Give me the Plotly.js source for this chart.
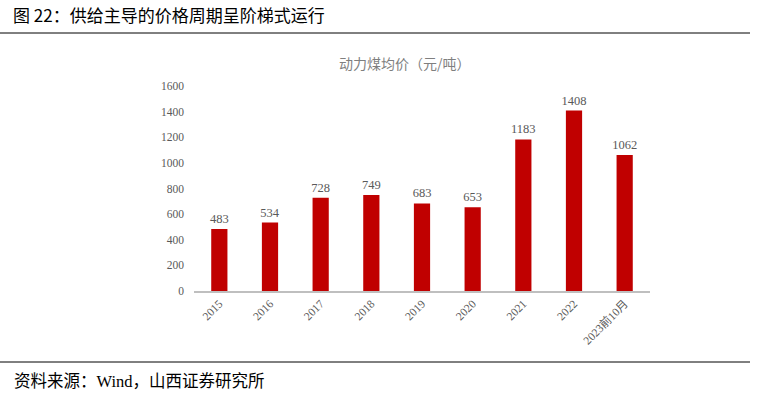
<!DOCTYPE html>
<html><head><meta charset="utf-8">
<script src="https://cdn.plot.ly/plotly-3.0.1.min.js"></script>
<style>html,body{margin:0;padding:0;background:#fff}#c{width:763px;height:397px}</style>
</head><body><div id="c"></div>
<script>
const categories = ["2015","2016","2017","2018","2019","2020","2021","2022","2023前10月"];
const prices = [483,534,728,749,683,653,1183,1408,1062];
const yTicks = [0,200,400,600,800,1000,1200,1400,1600];

const serif = '"Liberation Serif","Times New Roman","Noto Sans CJK SC",serif';
const trace = {
  type:'bar', x:categories, y:prices,
  marker:{color:'#c00000'},
  text:prices.map(String), textposition:'outside', constraintext:'none',
  textfont:{family:serif,size:12.5,color:'#595959'},
  cliponaxis:false, hoverinfo:'skip'
};
const layout = {
  width:763, height:397,
  margin:{l:194,r:113,t:86,b:106},
  paper_bgcolor:'#fff', plot_bgcolor:'#fff',
  showlegend:false, bargap:0.68,
  xaxis:{type:'category', showline:true, linecolor:'#bfbfbf', linewidth:1.5,
    ticks:'', tickangle:-45, tickfont:{family:serif,size:11.5,color:'#595959'}, showgrid:false},
  yaxis:{range:[0,1600], tickvals:yTicks, ticktext:yTicks.map(String), showgrid:false,
    zeroline:false, showline:false, ticks:'', ticklen:0, ticklabelstandoff:9,
    tickfont:{family:serif,size:11.5,color:'#595959'}},
  shapes:[
    {type:'line',xref:'paper',yref:'paper',x0:-194/456,x1:(750-194)/456,y0:(397-106-33)/205,y1:(397-106-33)/205,
     line:{color:'#000',width:1}},
    {type:'line',xref:'paper',yref:'paper',x0:-194/456,x1:(750-194)/456,y0:(291-362)/205,y1:(291-362)/205,
     line:{color:'#000',width:1}}
  ],
  annotations:[
    {text:'图 22：供给主导的价格周期呈阶梯式运行',xref:'paper',yref:'paper',
     x:-183/456,y:(291-15)/205,xanchor:'left',yanchor:'middle',showarrow:false,
     font:{family:'"Noto Sans CJK SC",sans-serif',size:17,color:'#000'}},
    {text:'动力煤均价（元/吨）',xref:'paper',yref:'paper',
     x:(405-194)/456,y:(291-63)/205,xanchor:'center',yanchor:'middle',showarrow:false,
     font:{family:'"Noto Sans CJK SC",sans-serif',size:14,color:'#7f7f7f'}},
    {text:'资料来源：Wind，山西证券研究所',xref:'paper',yref:'paper',
     x:-182/456,y:(291-381)/205,xanchor:'left',yanchor:'middle',showarrow:false,
     font:{family:'"Liberation Serif","Noto Sans CJK SC",serif',size:16.5,color:'#000'}}
  ]
};
Plotly.newPlot('c',[trace],layout,{displayModeBar:false,staticPlot:true});
</script></body></html>
